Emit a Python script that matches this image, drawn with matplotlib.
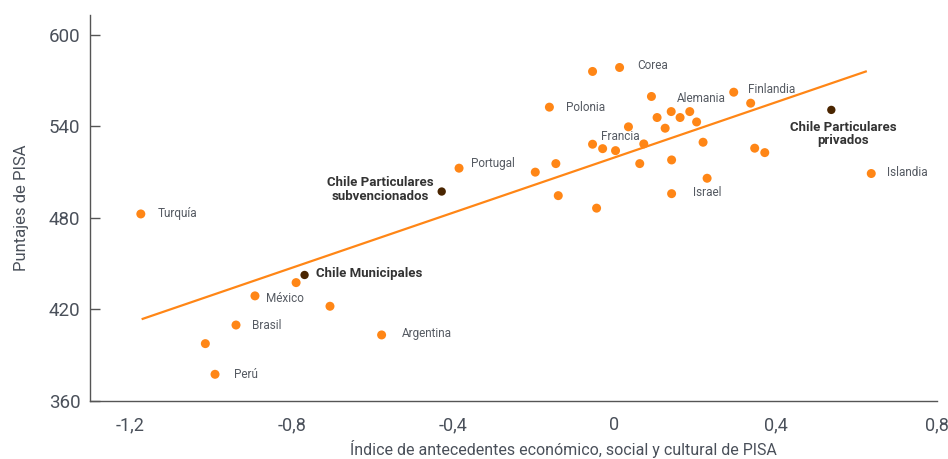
import matplotlib
matplotlib.use("Agg")
import matplotlib.pyplot as plt

# ---------------- data ----------------
oecd_labels = ["Turquía", "México", "Brasil", "", "Perú", "", "", "Argentina",
               "", "Corea", "Polonia", "", "", "", "Francia", "", "",
               "Portugal", "", "", "", "", "", "", "Alemania", "", "", "",
               "", "", "", "", "Israel", "Finlandia", "", "", "", "Islandia"]
oecd_x = [-1.174, -0.891, -0.938, -1.014, -0.990, -0.789, -0.705, -0.577,
          -0.054, 0.013, -0.161, 0.035, -0.054, -0.029, 0.003, 0.073, 0.063,
          -0.385, -0.196, -0.145, -0.139, -0.044, 0.092, 0.106, 0.141, 0.163,
          0.187, 0.204, 0.126, 0.142, 0.220, 0.230, 0.142, 0.296, 0.338,
          0.348, 0.373, 0.637]
oecd_y = [482.6, 428.9, 409.8, 397.6, 377.5, 437.6, 422.1, 403.3,
          576.0, 578.6, 552.6, 539.7, 528.3, 525.4, 524.1, 528.5, 515.6,
          512.6, 510.0, 515.6, 494.6, 486.4, 559.6, 545.8, 549.7, 545.8,
          549.7, 542.9, 538.8, 518.0, 529.6, 506.0, 495.9, 562.4, 555.2,
          525.7, 522.8, 509.1]

chile_labels = ["Chile Municipales", "Chile Particulares\nsubvencionados",
                "Chile Particulares\nprivados"]
chile_x = [-0.768, -0.428, 0.538]
chile_y = [442.6, 497.3, 550.8]

trend_x = [-1.172, 0.626]
trend_y = [413.6, 576.2]

x_ticks = [-1.2, -0.8, -0.4, 0.0, 0.4, 0.8]
x_ticklabels = ["-1,2", "-0,8", "-0,4", "0", "0,4", "0,8"]
y_ticks = [360, 420, 480, 540, 600]
y_ticklabels = ["360", "420", "480", "540", "600"]

x_title = "Índice de antecedentes económico, social y cultural de PISA"
y_title = "Puntajes de PISA"

# ---------------- style ----------------
FONT = ["Roboto", "DejaVu Sans"]
plt.rcParams["font.family"] = FONT
ORANGE = "#FF8616"
LINE = "#FF8616"
DARK = "#4A2500"
TXT = "#555A62"
AX = "#555555"
TICKC = "#4A505A"

# offsets in pixels (dx, dy, ha)
label_style = {
    "Turquía": (17, 0, "left"),
    "México": (11, -3, "left"),
    "Brasil": (16, 0, "left"),
    "Perú": (19, 0, "left"),
    "Argentina": (20, 1, "left"),
    "Polonia": (17, 0, "left"),
    "Francia": (5, 14, "center"),
    "Portugal": (12, 5, "left"),
    "Corea": (18, 2, "left"),
    "Alemania": (6, 13, "left"),
    "Finlandia": (14, 3, "left"),
    "Israel": (21, 1, "left"),
    "Islandia": (16, 1, "left"),
    "Chile Municipales": (11, 1, "left"),
    "Chile Particulares\nsubvencionados": (-8, 2, "right"),
    "Chile Particulares\nprivados": (12, -24, "center"),
}

fig = plt.figure(figsize=(9.48, 4.59), dpi=100)
ax = fig.add_axes([90 / 948, 1 - 401 / 459, (937 - 90) / 948, (401 - 15) / 459])

ax.plot(trend_x, trend_y, color=LINE, lw=1.6, solid_capstyle="butt", zorder=2)
ax.scatter(oecd_x, oecd_y, s=42, color=ORANGE, edgecolors="none", zorder=3)
ax.scatter(chile_x, chile_y, s=36, color=DARK, edgecolors="none", zorder=4)

for name, x, y in zip(oecd_labels, oecd_x, oecd_y):
    if not name:
        continue
    dx, dy, ha = label_style[name]
    ax.annotate(name, (x, y), xytext=(dx, dy), textcoords="offset pixels",
                ha=ha, va="center", fontsize=8.5, color=TXT, family=FONT)

for name, x, y in zip(chile_labels, chile_x, chile_y):
    dx, dy, ha = label_style[name]
    ax.annotate(name, (x, y), xytext=(dx, dy), textcoords="offset pixels",
                ha=ha, va="center", multialignment="center", fontsize=9.5,
                fontweight="bold", color="#333333", family=FONT,
                linespacing=1.05)

ax.set_xlim(-1.3, 0.8)
ax.set_ylim(360, 613)
ax.set_xticks(x_ticks)
ax.set_xticklabels(x_ticklabels)
ax.set_yticks(y_ticks)
ax.set_yticklabels(y_ticklabels)

for s in ["top", "right"]:
    ax.spines[s].set_visible(False)
for s in ["left", "bottom"]:
    ax.spines[s].set_color(AX)
    ax.spines[s].set_linewidth(1.0)

ax.tick_params(axis="x", length=0, pad=11, labelsize=13, labelcolor=TICKC)
ax.tick_params(axis="y", direction="in", length=7, width=1, color=AX,
               pad=7, labelsize=13.5, labelcolor=TICKC)

ax.set_xlabel(x_title, fontsize=11.5, color=TICKC)
ax.xaxis.set_label_coords((563 - 90) / 847, -0.1)
ax.set_ylabel(y_title, fontsize=12, color=TICKC, labelpad=14)

fig.savefig("out.png", dpi=100)
